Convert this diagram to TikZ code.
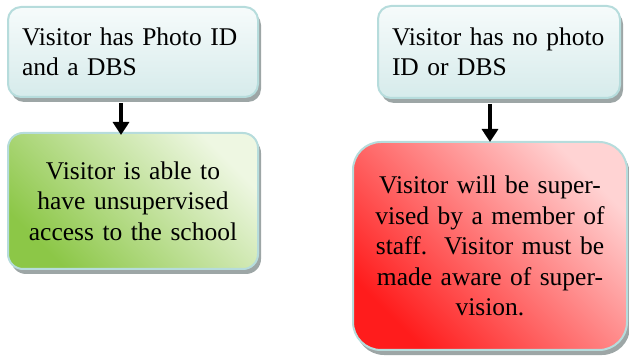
\documentclass[tikz,border=0pt]{standalone}
\usepackage{fontspec}
\setmainfont{Liberation Serif}
\usetikzlibrary{arrows.meta,shadows,positioning}
\definecolor{bluetop}{HTML}{F6FBFB}
\definecolor{bluebot}{HTML}{D6EBEB}
\definecolor{edgec}{HTML}{B6DCDC}
\definecolor{shadowc}{HTML}{9DA6A6}
\definecolor{greendark}{HTML}{8CC747}
\definecolor{greenmid}{HTML}{CDE7AE}
\definecolor{greenlight}{HTML}{EEF7E2}
\definecolor{reddark}{HTML}{FF1C1C}
\definecolor{redmid}{HTML}{FF8C8C}
\definecolor{redlight}{HTML}{FFD3D3}
\tikzset{
  boxbase/.style={draw=edgec, line width=2pt,
    drop shadow={shadow xshift=3pt, shadow yshift=-5pt, fill=shadowc, opacity=1},
    font=\fontsize{25.5}{30.5}\selectfont, inner ysep=0pt},
  condbox/.style={boxbase, rounded corners=13pt, top color=bluetop, bottom color=bluebot,
    align=left, inner xsep=14pt},
  greenbox/.style={boxbase, rounded corners=15pt, bottom color=greendark, middle color=greenmid,
    top color=greenlight, shading angle=-45, align=center, inner xsep=8pt},
  redbox/.style={boxbase, rounded corners=28pt, bottom color=reddark, middle color=redmid,
    top color=redlight, shading angle=-45, align=center, inner xsep=10pt},
  flowarrow/.style={line width=4pt, -{Triangle[width=16pt,length=13pt]}}
}
\begin{document}
\begin{tikzpicture}[x=1pt,y=1pt]
\useasboundingbox (0,0) rectangle (629,356);
\node[condbox, text width=222pt, minimum height=90pt] (b1) at (133,304)
  {Visitor has Photo ID\\and a DBS};
\node[condbox, text width=214pt, minimum height=92pt] (b2) at (499,304)
  {Visitor has no photo\\ID or DBS};
\node[greenbox, text width=234pt, minimum height=136pt] (g) at (133,155)
  {Visitor is able to\\have unsupervised\\access to the school};
\node[redbox, text width=254pt, minimum height=208pt] (r) at (490,110)
  {Visitor will be super-\\vised by a member of\\staff.\ \ Visitor must be\\made aware of super-\\vision.\par\vspace*{10pt}};
\draw[flowarrow] ([xshift=-12pt,yshift=-5pt]b1.south) -- ([xshift=-12pt,yshift=-3pt]g.north);
\draw[flowarrow] ([xshift=-9pt,yshift=-5pt]b2.south) -- ([yshift=-1pt]r.north);
\end{tikzpicture}
\end{document}
